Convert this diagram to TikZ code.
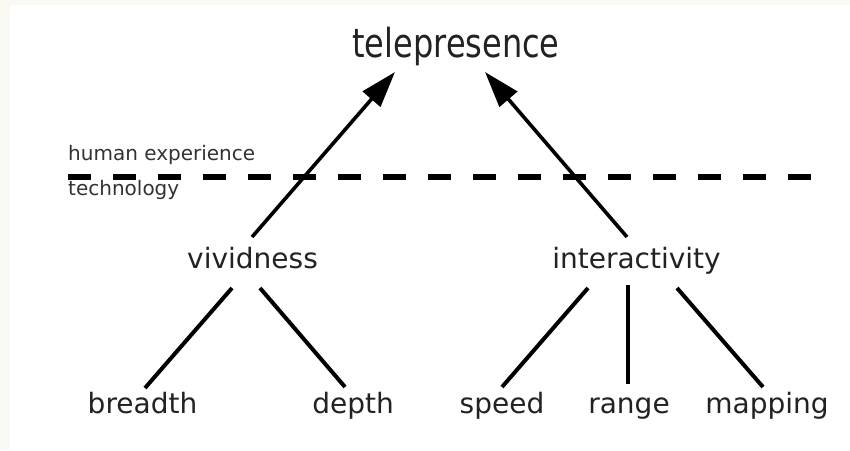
\documentclass[tikz,border=0pt]{standalone}
\usepackage{fontspec}
\setmainfont{DejaVu Sans}
\usetikzlibrary{arrows.meta}
\definecolor{bgcream}{HTML}{FBF9F4}
\definecolor{txt}{HTML}{222222}
\definecolor{smalltxt}{HTML}{333333}
\tikzset{
  lbl/.style={inner sep=0pt, anchor=base, text=txt, font=\fontsize{28}{34}\selectfont},
  small/.style={inner sep=0pt, anchor=base west, text=smalltxt, font=\fontsize{20}{24}\selectfont},
  branch/.style={line width=4pt, black},
  up/.style={line width=3.6pt, black, -{Triangle[length=36pt,width=23pt]}},
  divider/.style={line width=6pt, black, dash pattern=on 23pt off 22pt}
}
\begin{document}
\begin{tikzpicture}[x=1pt,y=-1pt]
\fill[bgcream] (0,0) rectangle (850,450);
\fill[white] (10,5) rectangle (850,450);
\useasboundingbox (0,0) rectangle (850,450);

\node[lbl, text=txt] (tele) at (456,57) {\scalebox{0.8}[1]{\fontsize{40}{48}\selectfont telepresence}};
\node[lbl] (viv) at (252.5,268) {vividness};
\node[lbl] (inter) at (636.5,268) {interactivity};
\node[lbl] (breadth) at (142.5,413) {breadth};
\node[lbl] (depth) at (353,413) {depth};
\node[lbl] (speed) at (502,413) {speed};
\node[lbl] (range) at (629,413) {range};
\node[lbl] (mapping) at (767,413) {mapping};

\node[small] (human) at (68,160) {human experience};
\node[small] (tech) at (68,195) {technology};

\coordinate (dl) at (68,177);
\coordinate (dr) at (812,177);
\draw[divider] (dl) -- (dr);

\draw[up] ([shift={(-0.5,-31)}]viv.base) -- ([shift={(-61,15)}]tele.base);
\draw[up] ([shift={(-9.5,-31)}]inter.base) -- ([shift={(29,15)}]tele.base);

\draw[branch] ([shift={(-20.5,20)}]viv.base) -- ([shift={(2.5,-25)}]breadth.base);
\draw[branch] ([shift={(7.5,20)}]viv.base) -- ([shift={(-8,-26)}]depth.base);
\draw[branch] ([shift={(-48.5,20)}]inter.base) -- ([shift={(0,-26)}]speed.base);
\draw[branch] ([shift={(-8.5,17)}]inter.base) -- ([shift={(-1,-29)}]range.base);
\draw[branch] ([shift={(40.5,20)}]inter.base) -- ([shift={(-4,-26)}]mapping.base);
\end{tikzpicture}
\end{document}
